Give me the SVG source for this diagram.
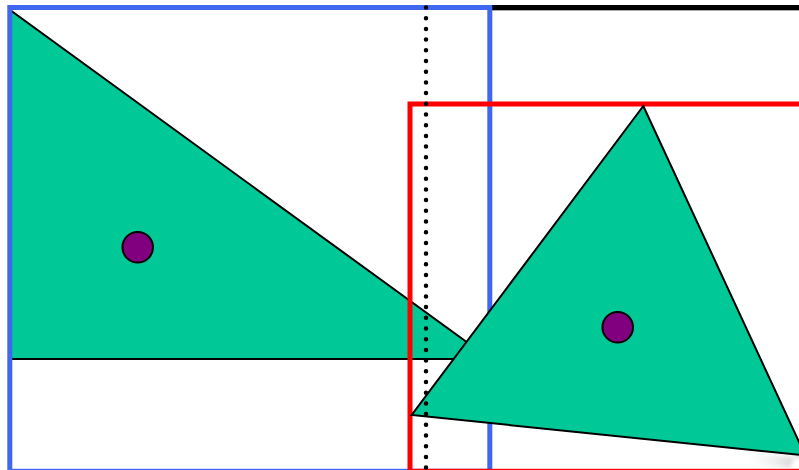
<svg xmlns="http://www.w3.org/2000/svg" width="799" height="470" viewBox="0 0 799 470">
<defs>
<style>
.tri{fill:#00c896;stroke:#000;stroke-width:2;stroke-linejoin:miter}
.dot{fill:#800080;stroke:#000;stroke-width:2}
</style>
<linearGradient id="sh" x1="0" y1="0" x2="1" y2="0">
<stop offset="0" stop-color="#fff" stop-opacity="0"/>
<stop offset="0.7" stop-color="#bbb" stop-opacity="0.7"/>
<stop offset="1" stop-color="#999" stop-opacity="0.9"/>
</linearGradient>
<filter id="blur" x="-20%" y="-50%" width="140%" height="200%"><feGaussianBlur stdDeviation="2"/></filter>
</defs>
<rect width="799" height="470" fill="#fff"/>
<g id="frame-top">
<line x1="490" y1="7.5" x2="805" y2="7.5" stroke="#000" stroke-width="5"/>
<line x1="490" y1="10.5" x2="805" y2="10.5" stroke="#aaa" stroke-width="1"/>
</g>
<g id="triangle-1">
<polygon class="tri" points="10,10 10,359 490,359"/>
<circle class="dot" cx="137.7" cy="247.3" r="15.3"/>
</g>
<g id="blue-frame">
<rect x="9.8" y="7.5" width="480" height="463.8" fill="none" stroke="#3f67f0" stroke-width="5"/>
</g>
<g id="red-frame">
<rect x="410" y="104" width="420" height="367.3" fill="none" stroke="#ff0000" stroke-width="5"/>
</g>
<g id="shadow">
<polygon points="740,452 805,458 805,430 790,468 760,466" fill="url(#sh)" filter="url(#blur)" opacity="0.6"/>
</g>
<g id="triangle-2">
<polygon class="tri" points="643.3,106 411.7,415 805.3,455.5"/>
<circle class="dot" cx="617.7" cy="327.3" r="15.3"/>
</g>
<g id="connectors">
<line x1="426" y1="7.5" x2="426" y2="470" stroke="#000" stroke-width="4.5" stroke-linecap="round" stroke-dasharray="0 10.7"/>
</g>
</svg>
